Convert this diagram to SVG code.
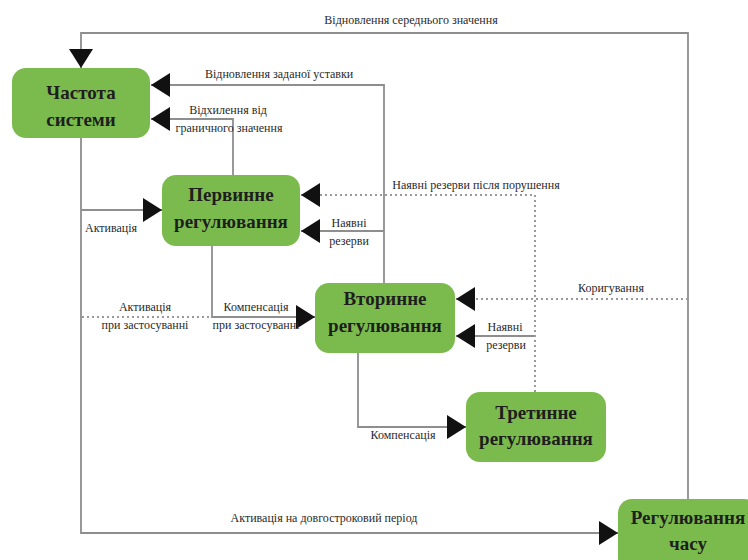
<svg xmlns="http://www.w3.org/2000/svg" width="748" height="560" viewBox="0 0 748 560">
  <defs>
    <marker id="arrow" markerUnits="userSpaceOnUse" markerWidth="20" markerHeight="24" refX="19" refY="12" orient="auto">
      <path d="M0,0 L19,12 L0,24 z" fill="#111"/>
    </marker>
  </defs>
  <rect width="748" height="560" fill="#fff"/>

  <g id="connectors" fill="none" stroke="#8e8e8e" stroke-width="1.8">
    <!-- long-term loop back to system frequency -->
    <path d="M688,499 V33 H81 V68" marker-end="url(#arrow)"/>
    <!-- setpoint restoration from secondary control -->
    <path d="M384,283 V85 H151" marker-end="url(#arrow)"/>
    <!-- deviation from primary control -->
    <path d="M233,175 V119 H151" marker-end="url(#arrow)"/>
    <!-- frequency to long-term time control -->
    <path d="M81,138 V533 H618" marker-end="url(#arrow)"/>
    <!-- activation of primary control -->
    <path d="M81,210 H162" marker-end="url(#arrow)"/>
    <!-- primary to secondary compensation -->
    <path d="M212,246 V317 H315" marker-end="url(#arrow)"/>
    <!-- available reserves into primary -->
    <path d="M384,231 H301" marker-end="url(#arrow)"/>
    <!-- available reserves into secondary -->
    <path d="M535,336 H456" marker-end="url(#arrow)"/>
    <!-- secondary to tertiary compensation -->
    <path d="M358,353 V427 H466" marker-end="url(#arrow)"/>
    <!-- dotted links: activation when applied, reserves after disturbance, correction -->
    <path d="M82,317 H210" stroke="#9a9a9a" stroke-width="2" stroke-dasharray="2 3"/>
    <path d="M535,392 V195 H301" stroke="#9a9a9a" stroke-width="2" stroke-dasharray="2 3" marker-end="url(#arrow)"/>
    <path d="M688,299 H456" stroke="#9a9a9a" stroke-width="2" stroke-dasharray="2 3" marker-end="url(#arrow)"/>
  </g>

  <g id="connector-labels">
    <text font-family="Liberation Serif" font-size="12" fill="#2a2a2a" text-anchor="middle" x="411" y="24">Відновлення середнього значення</text>
    <text font-family="Liberation Serif" font-size="12" fill="#2a2a2a" x="205" y="78">Відновлення заданої уставки</text>
    <text font-family="Liberation Serif" font-size="12" fill="#2a2a2a" text-anchor="middle" x="228" y="114">Відхилення від</text>
    <text font-family="Liberation Serif" font-size="12" fill="#2a2a2a" text-anchor="middle" x="229" y="132">граничного значення</text>
    <text font-family="Liberation Serif" font-size="12" fill="#2a2a2a" x="85" y="232">Активація</text>
    <text font-family="Liberation Serif" font-size="12" fill="#2a2a2a" text-anchor="middle" x="476" y="189">Наявні резерви після порушення</text>
    <text font-family="Liberation Serif" font-size="12" fill="#2a2a2a" text-anchor="middle" x="349" y="227">Наявні</text>
    <text font-family="Liberation Serif" font-size="12" fill="#2a2a2a" text-anchor="middle" x="349" y="245">резерви</text>
    <text font-family="Liberation Serif" font-size="12" fill="#2a2a2a" text-anchor="middle" x="145" y="311">Активація</text>
    <text font-family="Liberation Serif" font-size="12" fill="#2a2a2a" text-anchor="middle" x="145" y="329">при застосуванні</text>
    <text font-family="Liberation Serif" font-size="12" fill="#2a2a2a" text-anchor="middle" x="256" y="311">Компенсація</text>
    <text font-family="Liberation Serif" font-size="12" fill="#2a2a2a" text-anchor="middle" x="256" y="329">при застосуванні</text>
    <text font-family="Liberation Serif" font-size="12" fill="#2a2a2a" text-anchor="middle" x="611" y="292">Коригування</text>
    <text font-family="Liberation Serif" font-size="12" fill="#2a2a2a" text-anchor="middle" x="505" y="331">Наявні</text>
    <text font-family="Liberation Serif" font-size="12" fill="#2a2a2a" text-anchor="middle" x="506" y="349">резерви</text>
    <text font-family="Liberation Serif" font-size="12" fill="#2a2a2a" text-anchor="middle" x="403" y="439">Компенсація</text>
    <text font-family="Liberation Serif" font-size="12" fill="#2a2a2a" text-anchor="middle" x="324" y="522">Активація на довгостроковий період</text>
  </g>

  <g id="system-frequency">
    <rect x="12" y="68" width="138" height="70" rx="14" fill="#7bbb4d"/>
    <text font-family="Liberation Serif" font-size="19" font-weight="bold" fill="#1e1e1e" text-anchor="middle" x="81" y="99">Частота</text>
    <text font-family="Liberation Serif" font-size="19" font-weight="bold" fill="#1e1e1e" text-anchor="middle" x="81" y="126">системи</text>
  </g>
  <g id="primary-control">
    <rect x="162" y="175" width="138" height="71" rx="14" fill="#7bbb4d"/>
    <text font-family="Liberation Serif" font-size="19" font-weight="bold" fill="#1e1e1e" text-anchor="middle" x="231" y="201">Первинне</text>
    <text font-family="Liberation Serif" font-size="19" font-weight="bold" fill="#1e1e1e" text-anchor="middle" x="231" y="228">регулювання</text>
  </g>
  <g id="secondary-control">
    <rect x="315" y="283" width="140" height="70" rx="14" fill="#7bbb4d"/>
    <text font-family="Liberation Serif" font-size="19" font-weight="bold" fill="#1e1e1e" text-anchor="middle" x="385" y="305">Вторинне</text>
    <text font-family="Liberation Serif" font-size="19" font-weight="bold" fill="#1e1e1e" text-anchor="middle" x="385" y="332">регулювання</text>
  </g>
  <g id="tertiary-control">
    <rect x="466" y="392" width="140" height="70" rx="14" fill="#7bbb4d"/>
    <text font-family="Liberation Serif" font-size="19" font-weight="bold" fill="#1e1e1e" text-anchor="middle" x="536" y="419">Третинне</text>
    <text font-family="Liberation Serif" font-size="19" font-weight="bold" fill="#1e1e1e" text-anchor="middle" x="536" y="445">регулювання</text>
  </g>
  <g id="time-control">
    <rect x="618" y="499" width="140" height="75" rx="14" fill="#7bbb4d"/>
    <text font-family="Liberation Serif" font-size="19" font-weight="bold" fill="#1e1e1e" text-anchor="middle" x="688" y="524">Регулювання</text>
    <text font-family="Liberation Serif" font-size="19" font-weight="bold" fill="#1e1e1e" text-anchor="middle" x="688" y="550">часу</text>
  </g>
</svg>
